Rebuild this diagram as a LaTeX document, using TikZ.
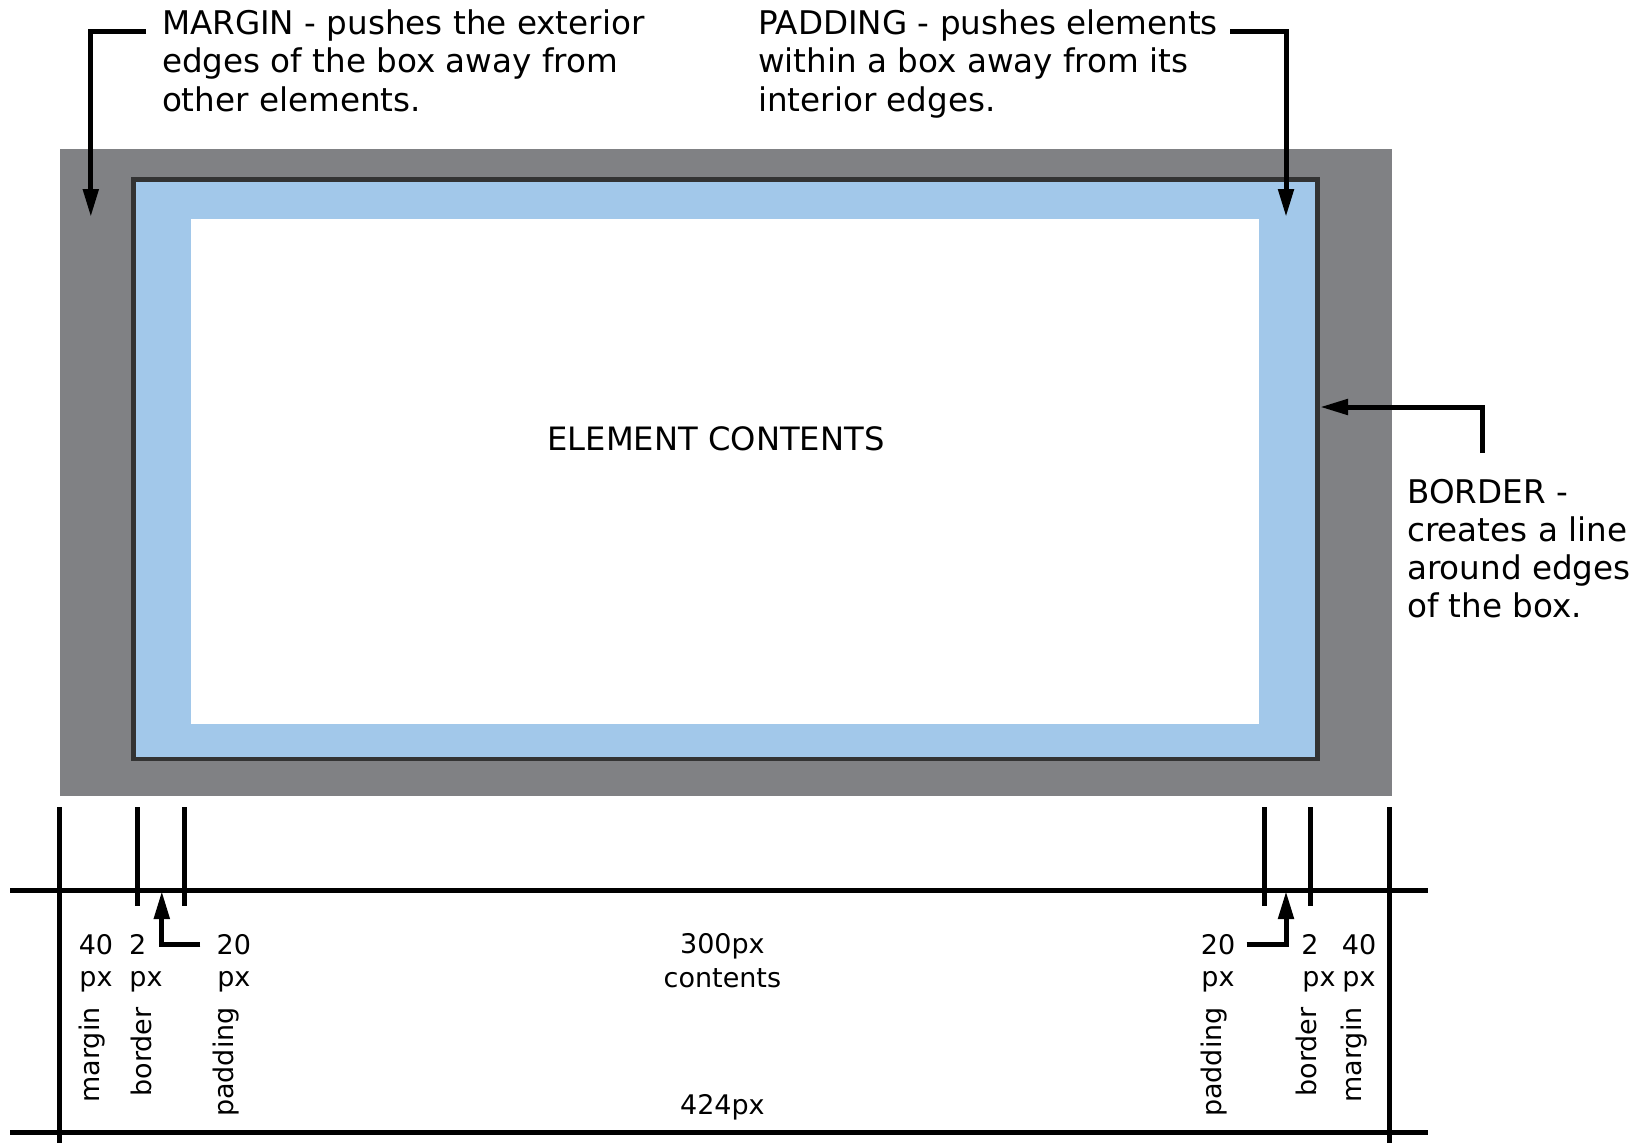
\documentclass[tikz,border=0pt]{standalone}
\usepackage{fontspec}
\setmainfont{DejaVu Sans}
\usetikzlibrary{arrows.meta}
\definecolor{margingray}{HTML}{808184}
\definecolor{padblue}{HTML}{A2C8EA}
\definecolor{borderdark}{HTML}{333333}
\tikzset{
  big/.style={font=\fontsize{32.6pt}{38.3pt}\selectfont, inner sep=0pt, align=left, anchor=north west},
  small/.style={font=\fontsize{27pt}{32pt}\selectfont, inner sep=0pt},
  rot/.style={small, rotate=90},
  callout/.style={line width=5pt, -{Triangle[length=28pt,width=15pt]}},
  ruler/.style={line width=5pt},
}
\begin{document}
\begin{tikzpicture}[x=1pt,y=-1pt]
\useasboundingbox (0,0) rectangle (1637,1143);
% boxes
\fill[margingray] (59.5,149.3) rectangle (1391.7,795.5);
\draw[fill=padblue, draw=borderdark, line width=4.5pt] (133.6,179.6) rectangle (1317.5,759);
\fill[white] (191,219) rectangle (1259,723.5);
\node[font=\fontsize{32.2pt}{38pt}\selectfont, inner sep=0pt] (content) at (716,438.5) {ELEMENT CONTENTS};

% callout texts
\node[big] (margintxt) at (161.8,9.5) {MARGIN - pushes the exterior\\edges of the box away from\\other elements.};
\node[big] (paddingtxt) at (758,9.5) {PADDING - pushes elements\\within a box away from its\\interior edges.};
\node[big] (bordertxt) at (1407,478.6) {BORDER -\\creates a line\\around edges\\of the box.};

\coordinate (m0) at (146,31.3);
\coordinate (m1) at (90.8,31.3);
\coordinate (m2) at (90.8,217);
\draw[callout] (m0) -- (m1) -- (m2);
\coordinate (p0) at (1230,31.3);
\coordinate (p1) at (1286,31.3);
\coordinate (p2) at (1286,217);
\draw[callout] (p0) -- (p1) -- (p2);
\coordinate (b0) at (1482.5,453);
\coordinate (b1) at (1482.5,407);
\coordinate (b2) at (1320,407);
\draw[callout] (b0) -- (b1) -- (b2);

% ruler
\coordinate (h1a) at (10.4,890.5); \coordinate (h1b) at (1428,890.5);
\coordinate (h2a) at (10.4,1132.7); \coordinate (h2b) at (1428,1132.7);
\draw[ruler] (h1a) -- (h1b);
\draw[ruler] (h2a) -- (h2b);
\foreach \x/\n in {59.5/L, 1389.6/R}{
  \coordinate (v\n a) at (\x,807); \coordinate (v\n b) at (\x,1143);
  \draw[ruler] (v\n a) -- (v\n b);
}
\foreach \x/\n in {137.8/a, 184.8/b, 1264/c, 1310/d}{
  \coordinate (s\n a) at (\x,807); \coordinate (s\n b) at (\x,906);
  \draw[ruler] (s\n a) -- (s\n b);
}
\coordinate (la0) at (200.4,944.8);
\coordinate (la1) at (161.8,944.8);
\coordinate (la2) at (161.8,891);
\draw[callout] (la0) -- (la1) -- (la2);
\coordinate (ra0) at (1246.5,944.8);
\coordinate (ra1) at (1286,944.8);
\coordinate (ra2) at (1286,891);
\draw[callout] (ra0) -- (ra1) -- (ra2);

% labels
\node[small] (l40) at (96,944.8) {40};
\node[small] (l40p) at (96,982) {px};
\node[small] (l2) at (137.8,944.8) {2};
\node[small] (l2p) at (146,982) {px};
\node[small] (l20) at (233.9,944.8) {20};
\node[small] (l20p) at (233.9,982) {px};
\node[small] (r20) at (1218,944.8) {20};
\node[small] (r20p) at (1218,982) {px};
\node[small] (r2) at (1310,944.8) {2};
\node[small] (r2p) at (1319,982) {px};
\node[small] (r40) at (1359,944.8) {40};
\node[small] (r40p) at (1359,982) {px};
\node[small] (c300) at (722.4,946.5) {300px};
\node[small] (ccont) at (722.4,978) {contents};
\node[small] (c424) at (722.4,1107) {424px};

\node[rot] (lm) at (91.9,1055) {margin};
\node[rot] (lb) at (141,1052) {border};
\node[rot] (lp) at (226.5,1062) {padding};
\node[rot] (rp) at (1214,1062) {padding};
\node[rot] (rb) at (1306,1052) {border};
\node[rot] (rm) at (1354,1055) {margin};
\end{tikzpicture}
\end{document}
